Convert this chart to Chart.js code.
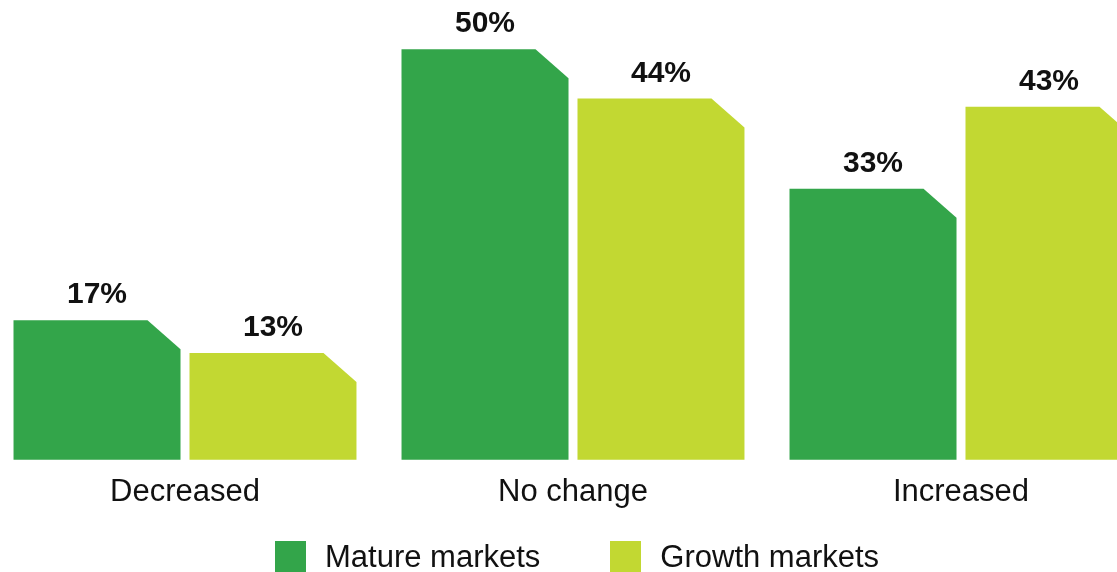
<!DOCTYPE html>
<html>
<head>
<meta charset="utf-8">
<script src="https://cdn.jsdelivr.net/npm/chart.js@4"></script>
<style>
  html, body { margin: 0; padding: 0; background: #fff; overflow: hidden; }
  body { width: 1117px; height: 572px; position: relative; }
  #wrap { position: absolute; left: -9px; top: 0; width: 1164px; height: 572px; }
  #leyenda {
    position: absolute; left: 275px; top: 541px; height: 31px;
    display: flex; align-items: center;
    font-family: "Liberation Sans", Arial, sans-serif; font-size: 31px; color: #111;
  }
  #leyenda .cuadro { width: 31px; height: 31px; margin-right: 19px; }
  #leyenda .item { display: flex; align-items: center; margin-right: 70px; }
</style>
</head>
<body>
<div id="wrap"><canvas id="graficoMercados"></canvas></div>
<div id="leyenda"></div>

<script>
// Datos del gráfico
const categorias = ['Decreased', 'No change', 'Increased'];
const maduros = [17, 50, 33];
const crecimiento = [13, 44, 43];
const nombresSeries = ['Mature markets', 'Growth markets'];
const coloresSeries = ['#33A54A', '#C2D832'];

const FUENTE = '"Liberation Sans", Arial, sans-serif';
const CORTE_X = 33;  // chaflán de la esquina superior derecha
const CORTE_Y = 29;

// Dibuja las barras con la esquina superior derecha recortada
const barrasChaflan = {
    id: 'barrasChaflan',
    beforeDatasetDraw(chart, args) {
        const ctx = chart.ctx;
        const meta = args.meta;
        ctx.save();
        ctx.fillStyle = chart.data.datasets[args.index].backgroundColor;
        meta.data.forEach(bar => {
            const { x, y, base, width } = bar.getProps(['x', 'y', 'base', 'width'], true);
            const izq = x - width / 2;
            const der = x + width / 2;
            ctx.beginPath();
            ctx.moveTo(izq, base);
            ctx.lineTo(izq, y);
            ctx.lineTo(der - CORTE_X, y);
            ctx.lineTo(der, y + CORTE_Y);
            ctx.lineTo(der, base);
            ctx.closePath();
            ctx.fill();
        });
        ctx.restore();
        return false;
    }
};

// Etiquetas de porcentaje encima de cada barra
const etiquetasValor = {
    id: 'etiquetasValor',
    afterDatasetsDraw(chart) {
        const ctx = chart.ctx;
        ctx.save();
        ctx.font = 'bold 30px ' + FUENTE;
        ctx.fillStyle = '#111';
        ctx.textAlign = 'center';
        ctx.textBaseline = 'alphabetic';
        chart.data.datasets.forEach((ds, i) => {
            chart.getDatasetMeta(i).data.forEach((bar, j) => {
                ctx.fillText(ds.data[j] + '%', bar.x, bar.y - 17);
            });
        });
        ctx.restore();
    }
};

function cargarGrafico() {
    const ctx = document.getElementById('graficoMercados').getContext('2d');

    new Chart(ctx, {
        type: 'bar',
        data: {
            labels: categorias,
            datasets: [
                { label: nombresSeries[0], data: maduros, backgroundColor: coloresSeries[0] },
                { label: nombresSeries[1], data: crecimiento, backgroundColor: coloresSeries[1] }
            ]
        },
        options: {
            responsive: true,
            maintainAspectRatio: false,
            animation: false,
            categoryPercentage: 0.907,
            barPercentage: 0.949,
            layout: { padding: { top: 0, bottom: 47, left: 0, right: 0 } },
            plugins: {
                legend: { display: false },
                tooltip: { enabled: false }
            },
            scales: {
                x: {
                    grid: { display: false, drawTicks: false },
                    border: { display: false },
                    ticks: { color: '#111', padding: 14, font: { family: FUENTE, size: 31 } }
                },
                y: { display: false, min: 0, max: 56 }
            }
        },
        plugins: [barrasChaflan, etiquetasValor]
    });

    // Leyenda en HTML debajo del gráfico
    const leyenda = document.getElementById('leyenda');
    nombresSeries.forEach((nombre, i) => {
        const item = document.createElement('div');
        item.className = 'item';
        item.innerHTML = `<span class="cuadro" style="background:${coloresSeries[i]}"></span><span>${nombre}</span>`;
        leyenda.appendChild(item);
    });
}

cargarGrafico();
</script>
</body>
</html>
